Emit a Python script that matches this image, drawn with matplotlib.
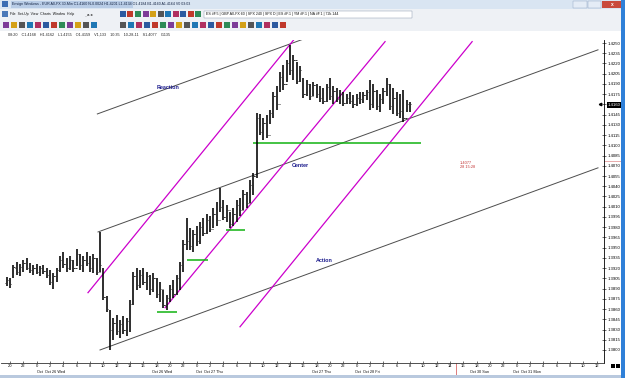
import numpy as np
import matplotlib
matplotlib.use("Agg")
import matplotlib.pyplot as plt
from matplotlib.patches import Rectangle
from matplotlib.transforms import blended_transform_factory

W, H = 625, 378

# EUR A0-FX 30-min bars, first bar 19:30 Oct 25
bar_open = [1.3898, 1.3903, 1.3907, 1.3920, 1.3914, 1.3922, 1.3927, 1.3920, 1.3917, 1.3920,
            1.3914, 1.3920, 1.3916, 1.3910, 1.3900, 1.3908, 1.3917, 1.3932, 1.3926, 1.3920,
            1.3932, 1.3920, 1.3940, 1.3925, 1.3932, 1.3928, 1.3920, 1.3935, 1.3915, 1.3920,
            1.3878, 1.3859, 1.3830, 1.3840, 1.3828, 1.3838, 1.3830, 1.3842, 1.3868, 1.3908,
            1.3895, 1.3910, 1.3900, 1.3908, 1.3890, 1.3905, 1.3882, 1.3890, 1.3866, 1.3876,
            1.3890, 1.3882, 1.3905, 1.3925, 1.3955, 1.3960, 1.3952, 1.3970, 1.3960, 1.3980,
            1.3972, 1.3990, 1.3978, 1.4000, 1.3990, 1.4010, 1.3995, 1.4005, 1.3985, 1.4000,
            1.4012, 1.4005, 1.4028, 1.4015, 1.4042, 1.4055, 1.4140, 1.4120, 1.4132, 1.4115,
            1.4148, 1.4172, 1.4160, 1.4200, 1.4190, 1.4220, 1.4210, 1.4225, 1.4195, 1.4195,
            1.4175, 1.4190, 1.4172, 1.4188, 1.4175, 1.4170, 1.4165, 1.4185, 1.4172, 1.4180,
            1.4168, 1.4175, 1.4162, 1.4170, 1.4165, 1.4160, 1.4170, 1.4168, 1.4174, 1.4178,
            1.4160, 1.4180, 1.4158, 1.4168, 1.4180, 1.4190, 1.4158, 1.4170, 1.4148, 1.4150,
            1.4140, 1.4160]
bar_high = [1.3907, 1.3905, 1.3925, 1.3929, 1.3926, 1.3932, 1.3935, 1.3928, 1.3925, 1.3926,
            1.3923, 1.3925, 1.3920, 1.3917, 1.3913, 1.3920, 1.3938, 1.3944, 1.3935, 1.3938,
            1.3932, 1.3948, 1.3941, 1.3938, 1.3944, 1.3938, 1.3940, 1.3935, 1.3973, 1.3920,
            1.3879, 1.3859, 1.3847, 1.3851, 1.3844, 1.3850, 1.3847, 1.3873, 1.3914, 1.3920,
            1.3917, 1.3920, 1.3914, 1.3910, 1.3913, 1.3905, 1.3900, 1.3888, 1.3881, 1.3895,
            1.3903, 1.3910, 1.3929, 1.3961, 1.3993, 1.3979, 1.3976, 1.3982, 1.3988, 1.3993,
            1.3999, 1.3996, 1.4008, 1.4017, 1.4037, 1.4020, 1.4013, 1.4002, 1.4008, 1.4020,
            1.4023, 1.4034, 1.4032, 1.4049, 1.4059, 1.4147, 1.4146, 1.4140, 1.4144, 1.4152,
            1.4178, 1.4187, 1.4207, 1.4218, 1.4225, 1.4247, 1.4232, 1.4222, 1.4216, 1.4199,
            1.4196, 1.4190, 1.4193, 1.4190, 1.4187, 1.4184, 1.4190, 1.4199, 1.4187, 1.4184,
            1.4181, 1.4178, 1.4175, 1.4178, 1.4174, 1.4175, 1.4178, 1.4178, 1.4181, 1.4196,
            1.4190, 1.4181, 1.4175, 1.4184, 1.4199, 1.4190, 1.4184, 1.4178, 1.4175, 1.4181,
            1.4166, 1.4164]
bar_low = [1.3894, 1.3891, 1.3905, 1.3910, 1.3908, 1.3914, 1.3917, 1.3913, 1.3910, 1.3911,
           1.3908, 1.3911, 1.3905, 1.3895, 1.3889, 1.3900, 1.3914, 1.3920, 1.3914, 1.3917,
           1.3914, 1.3923, 1.3917, 1.3914, 1.3923, 1.3914, 1.3913, 1.3910, 1.3914, 1.3873,
           1.3856, 1.3800, 1.3815, 1.3822, 1.3818, 1.3823, 1.3820, 1.3826, 1.3866, 1.3888,
           1.3891, 1.3895, 1.3888, 1.3881, 1.3885, 1.3876, 1.3870, 1.3861, 1.3859, 1.3870,
           1.3876, 1.3881, 1.3888, 1.3914, 1.3947, 1.3947, 1.3944, 1.3952, 1.3955, 1.3967,
           1.3970, 1.3973, 1.3979, 1.3982, 1.4002, 1.3991, 1.3988, 1.3979, 1.3982, 1.3988,
           1.3996, 1.4005, 1.4008, 1.4015, 1.4027, 1.4052, 1.4115, 1.4108, 1.4111, 1.4131,
           1.4140, 1.4152, 1.4178, 1.4181, 1.4193, 1.4203, 1.4196, 1.4190, 1.4193, 1.4169,
           1.4172, 1.4166, 1.4172, 1.4169, 1.4164, 1.4161, 1.4164, 1.4166, 1.4161, 1.4164,
           1.4161, 1.4158, 1.4161, 1.4161, 1.4155, 1.4158, 1.4161, 1.4162, 1.4166, 1.4152,
           1.4155, 1.4152, 1.4149, 1.4161, 1.4172, 1.4152, 1.4146, 1.4143, 1.4140, 1.4134,
           1.4149, 1.4149]
bar_close = [1.3903, 1.3897, 1.3921, 1.3914, 1.3922, 1.3927, 1.3920, 1.3917, 1.3920, 1.3914,
             1.3920, 1.3916, 1.3910, 1.3900, 1.3908, 1.3917, 1.3932, 1.3926, 1.3920, 1.3932,
             1.3920, 1.3940, 1.3925, 1.3932, 1.3928, 1.3920, 1.3935, 1.3915, 1.3925, 1.3878,
             1.3860, 1.3830, 1.3840, 1.3828, 1.3838, 1.3830, 1.3842, 1.3868, 1.3908, 1.3895,
             1.3910, 1.3900, 1.3908, 1.3890, 1.3905, 1.3882, 1.3890, 1.3866, 1.3876, 1.3890,
             1.3882, 1.3905, 1.3925, 1.3955, 1.3960, 1.3952, 1.3970, 1.3960, 1.3980, 1.3972,
             1.3990, 1.3978, 1.4000, 1.3990, 1.4010, 1.3995, 1.4005, 1.3985, 1.4000, 1.4012,
             1.4005, 1.4028, 1.4015, 1.4042, 1.4055, 1.4140, 1.4120, 1.4132, 1.4115, 1.4148,
             1.4172, 1.4160, 1.4200, 1.4190, 1.4220, 1.4210, 1.4225, 1.4195, 1.4210, 1.4175,
             1.4190, 1.4172, 1.4188, 1.4175, 1.4170, 1.4165, 1.4185, 1.4172, 1.4180, 1.4168,
             1.4175, 1.4162, 1.4170, 1.4165, 1.4160, 1.4170, 1.4168, 1.4174, 1.4178, 1.4160,
             1.4180, 1.4158, 1.4168, 1.4180, 1.4190, 1.4158, 1.4170, 1.4148, 1.4150, 1.4140,
             1.4160, 1.4160]

# axis labels (one tick every 2 hours)
hour_labels = ["20", "22",
               "0", "2", "4", "6", "8", "10", "12", "14", "16", "18", "20", "22",
               "0", "2", "4", "6", "8", "10", "12", "14", "16", "18", "20", "22",
               "0", "2", "4", "6", "8", "10", "12", "14",
               "16", "18", "20", "22",
               "0", "2", "4", "6", "8", "10", "12"]
date_labels = [(2.0, "Oct  Oct 26 Wed"), (10.65, "Oct 26 Wed"), (13.95, "Oct  Oct 27 Thu"),
               (22.65, "Oct 27 Thu"), (25.9, "Oct  Oct 28 Fri"), (34.5, "Oct 30 Sun"),
               (37.7, "Oct  Oct 31 Mon")]
price_ticks = np.round(np.arange(1.3800, 1.42501, 0.0015), 4)
last_price = 1.4160
cursor_price = 1.4077
session_break = 33.45

# drawn studies: (time slot, price) end points
reaction_line = ([6.55, 21.9], [1.4146, 1.4255])
center_line = ([6.6, 44.1], [1.3973, 1.4240])
action_line = ([6.75, 44.1], [1.3800, 1.4067])
pitch_lines = [([5.85, 21.38], [1.3884, 1.4257]),
               ([11.63, 28.13], [1.3862, 1.4252]),
               ([17.25, 34.66], [1.3834, 1.4252])]
support_levels = [(11.0, 12.5, 1.3856), (13.3, 14.85, 1.3932),
                  (16.2, 17.6, 1.3976), (18.2, 30.8, 1.4103)]
study_labels = [(11.85, 1.4185, "Reaction"), (21.75, 1.4070, "Center"), (23.6, 1.3931, "Action")]


def px_rect(fig, x, y, w, h, color, ec="none", lw=0.0):
    """rectangle in screen pixels, origin top-left"""
    r = Rectangle((x / W, 1 - (y + h) / H), w / W, h / H, transform=fig.transFigure,
                  facecolor=color, edgecolor=ec, linewidth=lw)
    fig.add_artist(r)
    return r


def px_text(fig, x, y, s, **kw):
    fig.text(x / W, 1 - y / H, s, va="center", **kw)


plt.rcParams["font.family"] = ["Liberation Sans", "DejaVu Sans"]
fig = plt.figure(figsize=(W / 100, H / 100), dpi=100)
fig.patch.set_facecolor("white")

# --- window chrome ---
px_rect(fig, 0, 0, W, 9, "#d9e5f2")
px_rect(fig, 11, 1, 122, 7, "#b8cce6")
px_rect(fig, 2, 1, 6, 6, "#3b6db3")
px_text(fig, 12, 4.5, "Ensign Windows - EUR A0-FX 30-Min C1.4160 N-0.0024 H1.4201 L1.4134 "
        "O1.4184 B1.4160 A1.4164 V0 03:03", fontsize=2.6, color="#102040")
px_rect(fig, 573, 1, 14, 7, "#e4ecf6", ec="#8aa0c0", lw=0.3)
px_rect(fig, 588, 1, 13, 7, "#e4ecf6", ec="#8aa0c0", lw=0.3)
px_rect(fig, 602, 1, 20, 7, "#c94a3c")
px_text(fig, 612, 4.5, "x", fontsize=3.5, color="white", ha="center", fontweight="bold")

px_rect(fig, 0, 9, W, 22, "#eef1f5")
px_rect(fig, 2, 11, 6, 6, "#4a78b8")
px_text(fig, 10, 14.5, "File  Set-Up  View  Charts  Window  Help", fontsize=2.5, color="#111111")
px_text(fig, 84, 14.5, "_ a x", fontsize=2.8, color="#222222", fontweight="bold")
icon_colors = ["#2c5aa0", "#c0392b", "#2e8b57", "#7d3c98", "#d4a017", "#555555", "#1f77b4", "#b03060"]
for k, x0 in enumerate(np.arange(120, 200, 7.5)):
    px_rect(fig, x0, 11, 6, 6, icon_colors[k % len(icon_colors)])
px_rect(fig, 204, 11, 208, 7, "white", ec="#7f8fa6", lw=0.3)
px_text(fig, 206, 14.5, "ES #F.5 | GBP A0-FX 60 | SPX 240 | SPX D | ES #F.1 | YM #F.1 | NA #F.1 | 72k.144",
        fontsize=2.6, color="#111111")
for k, x0 in enumerate(np.arange(3, 95, 8)):
    px_rect(fig, x0, 22, 6, 6, icon_colors[(k + 3) % len(icon_colors)])
for k, x0 in enumerate(np.arange(120, 285, 8)):
    px_rect(fig, x0, 22, 6, 6, icon_colors[(k + 5) % len(icon_colors)])

px_text(fig, 8, 35, "08:20    C1.4168    H1.4162    L1.4155    O1.4159    V1,133    10:35    "
        "10-28-11    S1.4077    I1135", fontsize=2.7, color="#222222")

px_rect(fig, 0, 375, W, 3, "#b9c9de")
px_rect(fig, 621, 0, 4, H, "#2f80d8")
px_rect(fig, 611, 364, 4, 4, "black")
px_rect(fig, 616, 364, 4, 4, "black")

# --- chart ---
ax = fig.add_axes([1 / W, 1 - 363 / H, 603 / W, 323 / H])
ax.set_facecolor("white")
n = len(bar_close)
bar_x = -0.25 + 0.25 * np.arange(n)

ax.vlines(bar_x, bar_low, bar_high, color="black", lw=1.15, zorder=3)
ax.hlines(bar_open, bar_x - 0.11, bar_x, color="#333333", lw=0.7, zorder=3)
ax.hlines(bar_close, bar_x, bar_x + 0.11, color="#333333", lw=0.7, zorder=3)

for line in (reaction_line, center_line, action_line):
    ax.plot(line[0], line[1], color="#4d4d4d", lw=0.7, zorder=2)
for line in pitch_lines:
    ax.plot(line[0], line[1], color="#cc00cc", lw=0.9, zorder=2)
for x0, x1, p in support_levels:
    ax.hlines(p, x0, x1, color="#11b311", lw=1.1, zorder=2)
for x, p, s in study_labels:
    ax.text(x, p, s, ha="center", va="center", fontsize=3.9, color="#1a1a8c", fontweight="bold")

ax.text(33.75, cursor_price, f"{cursor_price:.4f}\n28 15:28", ha="left", va="top",
        fontsize=2.8, color="#c23030", linespacing=1.05)

ax.set_xlim(-0.675, 44.55)
ax.set_ylim(1.37809, 1.42544)
for side in ("left", "top"):
    ax.spines[side].set_visible(False)
ax.spines["right"].set_linewidth(0.6)
ax.spines["bottom"].set_linewidth(0.6)
ax.spines["bottom"].set_color("#333333")

ax.yaxis.tick_right()
ax.set_yticks(price_ticks)
ax.set_yticklabels([f"{p:.4f}" for p in price_ticks])
ax.tick_params(axis="y", direction="inout", length=2.5, width=0.4, pad=1.2, labelsize=3.1)
ax.set_xticks(np.arange(len(hour_labels)))
ax.set_xticklabels(hour_labels)
ax.tick_params(axis="x", direction="in", length=1.8, width=0.4, pad=1.0, labelsize=3.0)

for lab, p in zip(ax.get_yticklabels(), price_ticks):
    if abs(p - last_price) < 1e-6:
        lab.set_color("white")
        lab.set_bbox(dict(facecolor="black", edgecolor="none", pad=0.5))

ytrans = blended_transform_factory(ax.transAxes, ax.transData)
ax.plot([0.993], [last_price], marker="<", ms=1.8, color="black", transform=ytrans, clip_on=False)
ax.plot([1.0, 1.028], [cursor_price, cursor_price], color="#e08a8a", lw=0.5,
        transform=ytrans, clip_on=False)

xtrans = ax.get_xaxis_transform()
for x, s in date_labels:
    ax.text(x, -0.028, s, transform=xtrans, ha="left", va="center", fontsize=2.8, color="#111111")
ax.plot([session_break, session_break], [0, -0.045], transform=xtrans, color="#d04848",
        lw=0.5, clip_on=False)

fig.savefig("out.png", dpi=100)
